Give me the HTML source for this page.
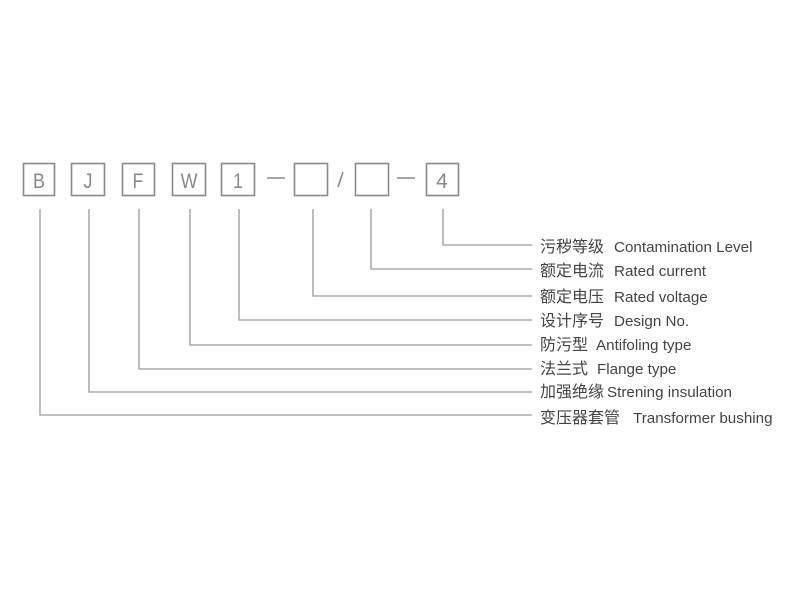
<!DOCTYPE html>
<html><head><style>
body{margin:0;background:#fff;}
svg text{font-family:"Liberation Sans","Noto Sans CJK SC",sans-serif;}
.c{font-size:16px;}
.e{font-size:15.2px;}
</style></head><body>
<svg width="800" height="600" xmlns="http://www.w3.org/2000/svg">
<g fill="none" stroke="#8a8a8a" stroke-width="1.6">
<rect x="23.5" y="163.5" width="31" height="32"/>
<rect x="71.5" y="163.5" width="33" height="32"/>
<rect x="122.5" y="163.5" width="32" height="32"/>
<rect x="172.5" y="163.5" width="33" height="32"/>
<rect x="221.5" y="163.5" width="33" height="32"/>
<rect x="294.5" y="163.5" width="33" height="32"/>
<rect x="355.5" y="163.5" width="33" height="32"/>
<rect x="426.5" y="163.5" width="32" height="32"/>
<line x1="267" y1="178" x2="285" y2="178"/>
<line x1="397" y1="178" x2="415" y2="178"/>
<line x1="343" y1="172" x2="338" y2="187"/>
</g>
<g fill="none" stroke="#9a9a9a" stroke-width="1.3">
<polyline points="443,209 443,245 532,245"/>
<polyline points="371,209 371,269 532,269"/>
<polyline points="313,209 313,296 532,296"/>
<polyline points="239,209 239,320 532,320"/>
<polyline points="190,209 190,345 532,345"/>
<polyline points="139,209 139,369 532,369"/>
<polyline points="89,209 89,392 532,392"/>
<polyline points="40,209 40,415 532,415"/>
</g>
<g fill="#888" font-size="21" text-anchor="middle">
<text x="39" y="188" transform="translate(39 0) scale(0.85 1) translate(-39 0)">B</text>
<text x="88" y="188" transform="translate(88 0) scale(0.85 1) translate(-88 0)">J</text>
<text x="138" y="188" transform="translate(138 0) scale(0.85 1) translate(-138 0)">F</text>
<text x="189" y="188" transform="translate(189 0) scale(0.85 1) translate(-189 0)">W</text>
<text x="238" y="188" transform="translate(238 0) scale(0.85 1) translate(-238 0)">1</text>
<text x="442" y="188">4</text>
</g>
<g fill="#444">
<text y="252"><tspan class="c" x="540">污秽等级</tspan><tspan class="e" x="614">Contamination Level</tspan></text>
<text y="276"><tspan class="c" x="540">额定电流</tspan><tspan class="e" x="614">Rated current</tspan></text>
<text y="302"><tspan class="c" x="540">额定电压</tspan><tspan class="e" x="614">Rated voltage</tspan></text>
<text y="326"><tspan class="c" x="540">设计序号</tspan><tspan class="e" x="614">Design No.</tspan></text>
<text y="350"><tspan class="c" x="540">防污型</tspan><tspan class="e" x="596">Antifoling type</tspan></text>
<text y="374"><tspan class="c" x="540">法兰式</tspan><tspan class="e" x="597">Flange type</tspan></text>
<text y="397"><tspan class="c" x="540">加强绝缘</tspan><tspan class="e" x="607">Strening insulation</tspan></text>
<text y="423"><tspan class="c" x="540">变压器套管</tspan><tspan class="e" x="633">Transformer bushing</tspan></text>
</g>
</svg>
</body></html>
